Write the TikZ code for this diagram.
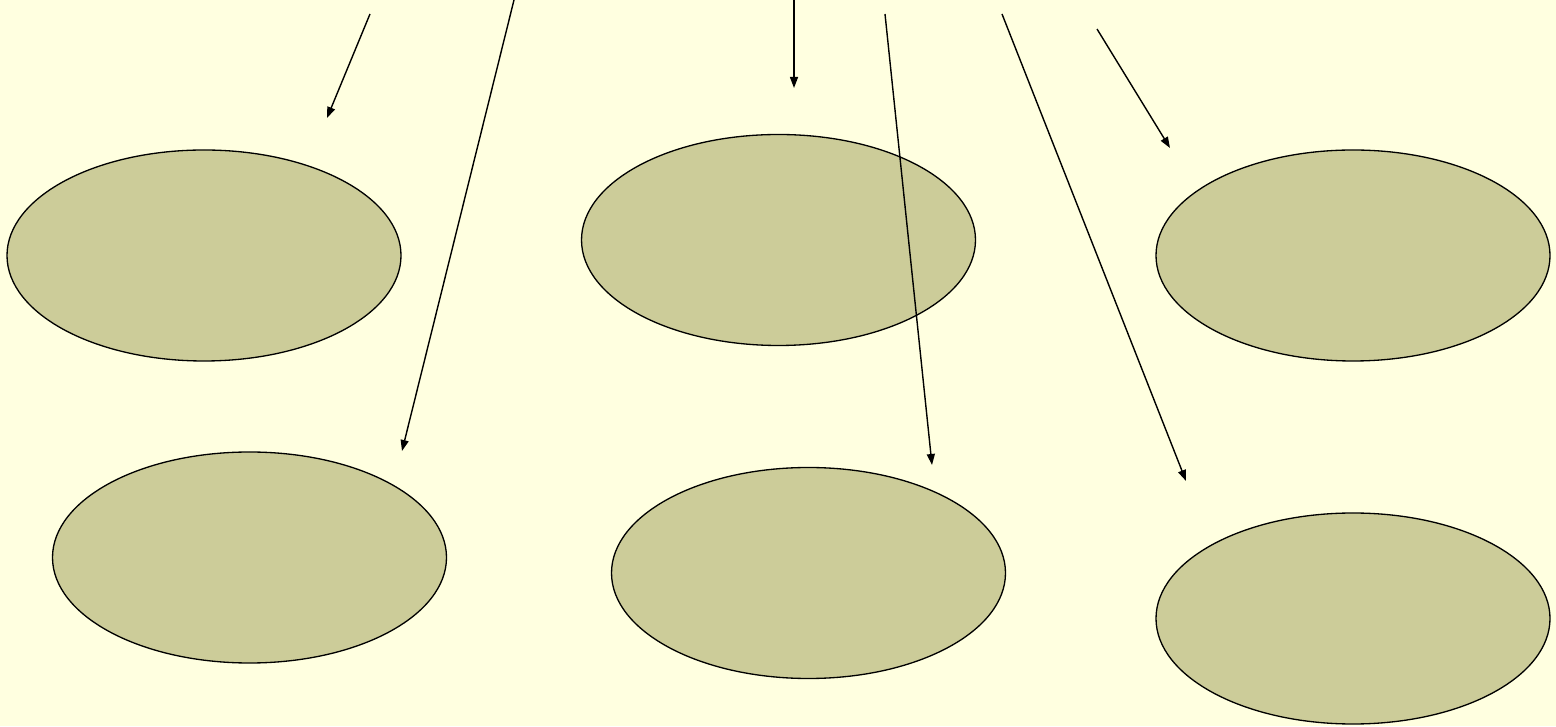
\documentclass[tikz,border=0pt]{standalone}
\usetikzlibrary{arrows.meta,shapes.geometric}

\definecolor{bgyellow}{HTML}{FFFFE0}
\definecolor{khaki}{HTML}{CCCC99}

\begin{document}
\begin{tikzpicture}[
  blob/.style={ellipse, draw, line width=0.75pt, fill=khaki, inner sep=0pt, minimum width=7.88cm, minimum height=4.22cm},
  arr/.style={-{Triangle[length=2.2mm, width=1.6mm]}, line width=0.8pt},
]

% Background
\fill[bgyellow] (0,0) rectangle (31.12,14.52);
\useasboundingbox (0,0) rectangle (31.12,14.52);

% Top row
\node[blob] (e1) at (4.08, 9.41) {};
\node[blob] (e2) at (15.57, 9.72) {};
\node[blob] (e3) at (27.06, 9.41) {};

% Bottom row
\node[blob] (e4) at (4.99, 3.37) {};
\node[blob] (e5) at (16.17, 3.06) {};
\node[blob] (e6) at (27.06, 2.15) {};

% Arrow ends
\coordinate (s1) at (7.4, 14.24);   \coordinate (t1) at (6.54, 12.16);
\coordinate (s2) at (10.28, 14.52); \coordinate (t2) at (8.04, 5.5);
\coordinate (s3) at (15.88, 14.52); \coordinate (t3) at (15.88, 12.76);
\coordinate (s4) at (17.7, 14.24);  \coordinate (t4) at (18.64, 5.22);
\coordinate (s5) at (20.04, 14.24); \coordinate (t5) at (23.72, 4.9);
\coordinate (s6) at (21.94, 13.94); \coordinate (t6) at (23.4, 11.56);

% Arrows
\draw[arr] (s1) -- (t1);
\draw[arr] (s2) -- (t2);
\draw[arr] (s3) -- (t3);
\draw[arr] (s4) -- (t4);
\draw[arr] (s5) -- (t5);
\draw[arr] (s6) -- (t6);

\end{tikzpicture}
\end{document}
